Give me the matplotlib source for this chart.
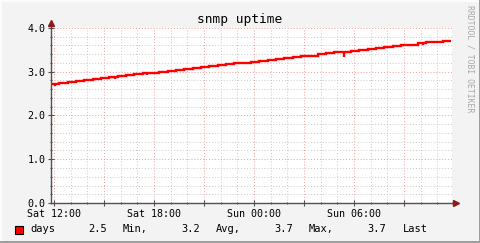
import datetime as dt
import matplotlib
matplotlib.use("Agg")
import matplotlib.pyplot as plt
import matplotlib.dates as mdates
from matplotlib.ticker import MultipleLocator, FuncFormatter
from matplotlib.patches import Rectangle

# uptime in days, one value per 30 minute step
uptime_days = [2.73, 2.75, 2.77, 2.79, 2.81, 2.83, 2.85, 2.87, 2.90, 2.92,
               2.94, 2.96, 2.98, 3.00, 3.02, 3.04, 3.06, 3.08, 3.10, 3.12,
               3.15, 3.17, 3.19, 3.21, 3.23, 3.25, 3.27, 3.29, 3.31, 3.33,
               3.35, 3.37, 3.40, 3.42, 3.44, 3.46, 3.48, 3.50, 3.52, 3.54,
               3.56, 3.58, 3.60, 3.62, 3.65, 3.67, 3.69, 3.71]
# short drops (hours after start, value at bottom of drop)
dip_hours = [0.24, 1.32, 1.74, 2.7, 3.84, 5.76, 16.1, 17.6, 19.0, 20.5, 22.3]
dip_values = [2.68, 2.75, 2.76, 2.80, 2.84, 2.92, 3.38, 3.34, 3.48, 3.56, 3.62]

legend_name = "days"
legend_stats = ["Min,", "Avg,", "Max,", "Last"]
legend_values = [2.5, 3.2, 3.7, 3.7]

title = "snmp uptime"
watermark = "RRDTOOL / TOBI OETIKER"

start = dt.datetime(2006, 1, 7, 11, 49)
step = dt.timedelta(minutes=30)

W, H = 481, 243
fig = plt.figure(figsize=(W / 100, H / 100), dpi=100)
fig.patch.set_facecolor("#f3f3f3")

# 3d frame
def px(x0, y0, w, h, c):
    fig.add_artist(Rectangle((x0 / W, 1 - (y0 + h) / H), w / W, h / H,
                             transform=fig.transFigure, color=c, lw=0))
px(0, 0, W, 2, "#fcfcfc")
px(0, 0, 2, H, "#fcfcfc")
px(W - 2, 0, 2, H, "#9e9e9e")
px(0, H - 2, W, 2, "#9e9e9e")

left, right, top, bottom = 51, 452, 28, 203
ax = fig.add_axes([left / W, 1 - bottom / H, (right - left) / W, (bottom - top) / H])
ax.set_facecolor("white")

mono = "DejaVu Sans Mono"

edges = [mdates.date2num(start + step * i) for i in range(len(uptime_days) + 1)]
ax.stairs(uptime_days, edges, color="#ff0000", lw=1.7, baseline=None, zorder=3)

for h, v in zip(dip_hours, dip_values):
    t = mdates.date2num(start + dt.timedelta(hours=h))
    i = min(int(h * 2), len(uptime_days) - 1)
    ax.vlines(t, v, uptime_days[i], color="#ff0000", lw=1.7, zorder=3)

x0 = mdates.date2num(start)
x1 = mdates.date2num(start + dt.timedelta(hours=24.06))
ax.set_xlim(x0, x1)
ax.set_ylim(0, 4.0)

ax.xaxis.set_major_locator(mdates.HourLocator(byhour=range(0, 24, 3)))
ax.xaxis.set_minor_locator(mdates.HourLocator())
ax.xaxis.set_major_formatter(FuncFormatter(
    lambda v, p: mdates.num2date(v).strftime("%a %H:%M")
    if mdates.num2date(v).hour % 6 == 0 else ""))
ax.yaxis.set_major_locator(MultipleLocator(1.0))
ax.yaxis.set_minor_locator(MultipleLocator(0.2))
ax.yaxis.set_major_formatter(FuncFormatter(lambda v, p: f"{v:.1f}"))

ax.grid(which="minor", color="#c8c8c8", ls=(0, (1, 2)), lw=0.7)
ax.grid(which="major", color="#f09a9a", ls=(0, (1, 2)), lw=0.7)
ax.set_axisbelow(True)

for s in ["top", "right"]:
    ax.spines[s].set_visible(False)
for s in ["left", "bottom"]:
    ax.spines[s].set_color("#505050")
    ax.spines[s].set_linewidth(1.0)
    ax.spines[s].set_zorder(4)

ax.tick_params(which="both", direction="inout", color="#505050", width=0.8,
               labelsize=7.2, labelcolor="black", pad=2)
ax.tick_params(which="major", length=4)
ax.tick_params(which="minor", length=2)
for lab in ax.get_xticklabels() + ax.get_yticklabels():
    lab.set_fontfamily(mono)

# axis arrows
ax.plot([1.0, 1.01], [0, 0], transform=ax.transAxes, color="#505050", lw=1, clip_on=False)
ax.plot([1.01], [0], transform=ax.transAxes, marker=">", ms=4, color="#8b1a1a", clip_on=False)
ax.plot([0, 0], [1.0, 1.03], transform=ax.transAxes, color="#505050", lw=1, clip_on=False)
ax.plot([0], [1.03], transform=ax.transAxes, marker="^", ms=4, color="#8b1a1a", clip_on=False)

fig.text(240 / W, 1 - 19 / H, title, ha="center", va="center",
         fontsize=9.3, family=mono)
fig.text(470 / W, 1 - 5 / H, watermark, ha="center", va="top", rotation=270,
         fontsize=5.9, family=mono, color="#a8a8a8")

# legend
fig.add_artist(Rectangle((15 / W, 1 - 234 / H), 8 / W, 8 / H,
                         transform=fig.transFigure, fc="#ff0000", ec="black", lw=0.8))
ly = 1 - 229 / H
fig.text(30 / W, ly, legend_name, va="center", fontsize=7.5, family=mono)
val_x = [107, 200, 293, 386]
lab_x = [123, 216, 309, 403]
for v, lab, vx, lx in zip(legend_values, legend_stats, val_x, lab_x):
    fig.text(vx / W, ly, f"{v:.1f}", ha="right", va="center", fontsize=7.5, family=mono)
    fig.text(lx / W, ly, lab, va="center", fontsize=7.5, family=mono)

fig.savefig("out.png", dpi=100, facecolor=fig.get_facecolor())
